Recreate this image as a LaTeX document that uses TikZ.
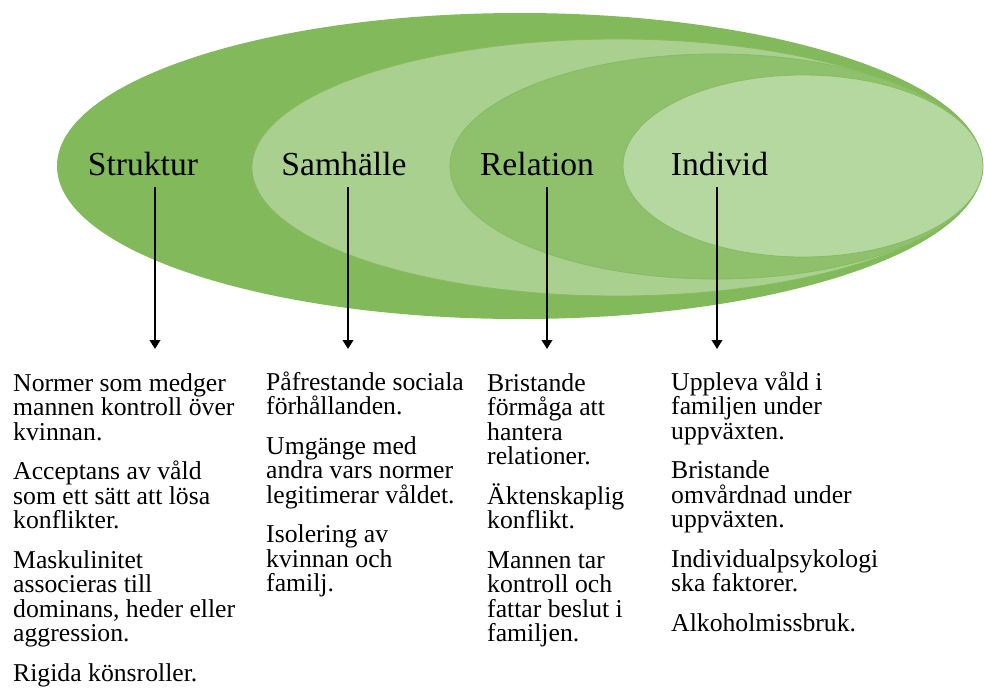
\documentclass[tikz,border=0pt]{standalone}
\usepackage{fontspec}
\setmainfont{Liberation Serif}
\usetikzlibrary{arrows.meta}
\definecolor{gOuter}{HTML}{82B95A}
\definecolor{gSam}{HTML}{A9D08E}
\definecolor{gRel}{HTML}{8FC06B}
\definecolor{gInd}{HTML}{B5D8A0}
\definecolor{gEdge}{HTML}{86BC60}
\newcommand\colbox[1]{\vtop{\baselineskip=24.5pt\lineskiplimit=-100pt\lineskip=0pt #1}}
\newcommand\pgap{\vskip15pt}
\begin{document}
\begin{tikzpicture}[x=1pt,y=-1pt,
  lab/.style={font=\fontsize{33.6}{40}\selectfont, inner sep=0pt, anchor=base},
  body/.style={font=\fontsize{25.7}{24.5}\selectfont, inner sep=0pt, anchor=base west},
  arr/.style={line width=2.2pt, -{Triangle[length=9pt,width=10.5pt]}},
  ell/.style={draw=gEdge, line width=0.8pt}]
\useasboundingbox (0,0) rectangle (984,688);
% nested ellipses
\fill[gOuter] (520,166) ellipse [x radius=463pt, y radius=153pt];
\path[ell, fill=gSam] (617,167.5) ellipse [x radius=365pt, y radius=128.5pt];
\path[ell, fill=gRel] (716,166.5) ellipse [x radius=266pt, y radius=112.5pt];
\path[ell, fill=gInd] (803,166) ellipse [x radius=180pt, y radius=91pt];
% labels
\node[lab] (struktur) at (143,175) {Struktur};
\node[lab] (samhalle) at (344,175) {Samhälle};
\node[lab] (relation) at (537,175) {Relation};
\node[lab] (individ) at (719.5,175) {Individ};
% arrow end points
\coordinate (s1) at (155,187);   \coordinate (e1) at (155,349);
\coordinate (s2) at (348,187);   \coordinate (e2) at (348,349);
\coordinate (s3) at (547,187);   \coordinate (e3) at (547,349);
\coordinate (s4) at (717,187);   \coordinate (e4) at (717,349);
\draw[arr] (s1) -- (e1);
\draw[arr] (s2) -- (e2);
\draw[arr] (s3) -- (e3);
\draw[arr] (s4) -- (e4);
% text columns
\node[body] (txtStruktur) at (13,391) {\colbox{%
  \hbox{Normer som medger}\hbox{mannen kontroll över}\hbox{kvinnan.}\pgap
  \hbox{Acceptans av våld}\hbox{som ett sätt att lösa}\hbox{konflikter.}\pgap
  \hbox{Maskulinitet}\hbox{associeras till}\hbox{dominans, heder eller}\hbox{aggression.}\pgap
  \hbox{Rigida könsroller.}}};
\node[body] (txtSamhalle) at (266,390) {\colbox{%
  \hbox{Påfrestande sociala}\hbox{förhållanden.}\pgap
  \hbox{Umgänge med}\hbox{andra vars normer}\hbox{legitimerar våldet.}\pgap
  \hbox{Isolering av}\hbox{kvinnan och}\hbox{familj.}}};
\node[body] (txtRelation) at (487,391) {\colbox{%
  \hbox{Bristande}\hbox{förmåga att}\hbox{hantera}\hbox{relationer.}\pgap
  \hbox{Äktenskaplig}\hbox{konflikt.}\pgap
  \hbox{Mannen tar}\hbox{kontroll och}\hbox{fattar beslut i}\hbox{familjen.}}};
\node[body] (txtIndivid) at (671,390) {\colbox{%
  \hbox{Uppleva våld i}\hbox{familjen under}\hbox{uppväxten.}\pgap
  \hbox{Bristande}\hbox{omvårdnad under}\hbox{uppväxten.}\pgap
  \hbox{Individualpsykologi}\hbox{ska faktorer.}\pgap
  \hbox{Alkoholmissbruk.}}};
\end{tikzpicture}
\end{document}
